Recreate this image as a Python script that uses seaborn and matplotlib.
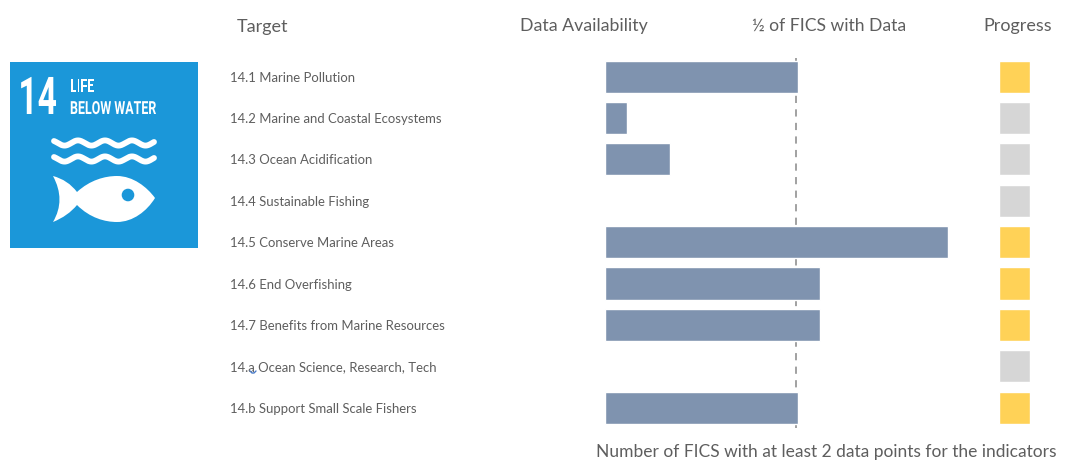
import numpy as np
import pandas as pd
import matplotlib
matplotlib.use("Agg")
import matplotlib.pyplot as plt
import seaborn as sns
from matplotlib.path import Path
from matplotlib.patches import PathPatch, Circle, Rectangle
from matplotlib.patheffects import AbstractPathEffect
from matplotlib.transforms import Affine2D

targets = ["14.1 Marine Pollution", "14.2 Marine and Coastal Ecosystems", "14.3 Ocean Acidification",
           "14.4 Sustainable Fishing", "14.5 Conserve Marine Areas", "14.6 End Overfishing",
           "14.7 Benefits from Marine Resources", "14.a Ocean Science, Research, Tech",
           "14.b Support Small Scale Fishers"]
fics_with_data = [9, 1, 3, 0, 16, 10, 10, 0, 9]
half_of_fics = 8.9
progress = ["some", "none", "none", "none", "some", "some", "some", "none", "some"]
progress_height = [1, 1, 1, 1, 1, 1, 1, 1, 1]

BAR = "#7F93AF"; YEL = "#FFD257"; GRY = "#D6D6D6"; TXT = "#5E5E5E"; BLUE = "#1B97D9"
W, H = 1075, 465

sns.set_theme(style="white")
plt.rcParams["font.family"] = ["Lato", "DejaVu Sans"]
fig = plt.figure(figsize=(W / 100, H / 100), dpi=100, facecolor="white")

def px_axes(x0, y0, x1, y1):
    return fig.add_axes([x0 / W, 1 - y1 / H, (x1 - x0) / W, (y1 - y0) / H])

top, bottom = 56.0, 428.3
unit = 21.45
ax = px_axes(605.2, top, 605.2 + 18 * unit, bottom)
ax.set_axisbelow(True)
df = pd.DataFrame({"target": targets, "fics": fics_with_data, "progress": progress, "h": progress_height})
sns.barplot(data=df, y="target", x="fics", color=BAR, saturation=1, width=0.775, ax=ax, zorder=3)
ax.set_xlim(0, 18)
ax.set_ylim(8.5, -0.5)
ax.axvline(half_of_fics, color="#9A9A9A", lw=1.3, ls=(0, (4, 3.5)), ymin=0.0, ymax=0.995, zorder=1)
ax.set_xlabel(""); ax.set_ylabel("")
ax.set_xticks([])
ax.tick_params(axis="y", length=0, pad=375.2 * 0.72)
for lab in ax.get_yticklabels():
    lab.set_ha("left"); lab.set_fontsize(9.45); lab.set_color(TXT); lab.set_family(["Lato", "DejaVu Sans"])
sns.despine(ax=ax, left=True, bottom=True)
ax.patch.set_alpha(0)

ax2 = px_axes(999.2, top, 1030, bottom)
sns.barplot(data=df, y="target", x="h", hue="progress", palette={"some": YEL, "none": GRY},
            saturation=1, width=0.775, dodge=False, legend=False, ax=ax2)
ax2.set_xlim(0, 1); ax2.set_ylim(8.5, -0.5)
ax2.axis("off")

def ftext(x, y, s, **kw):
    fig.text(x / W, 1 - y / H, s, color=TXT, va="center", **kw)

ftext(237, 27, "Target", fontsize=13)
ftext(520, 26, "Data Availability", fontsize=12.8)
ftext(752, 26, "½ of FICS with Data", fontsize=12.6)
ftext(983, 26, "Progress", fontsize=13)
ftext(596, 452, "Number of FICS with at least 2 data points for the indicators", fontsize=12.55)

# spell-check squiggle under "14.a"
sq = px_axes(0, 0, W, H); sq.set_xlim(0, W); sq.set_ylim(H, 0); sq.axis("off"); sq.patch.set_alpha(0)
sq.plot([250, 252, 254, 256], [371, 373, 373, 371], color="#4A7BC8", lw=1)

# SDG 14 logo: real text, narrowed at draw time to the logo's condensed lettering
class Squeeze(AbstractPathEffect):
    def __init__(self, sx, x0, dx=0):
        super().__init__()
        self.sx, self.x0, self.dx = sx, x0, dx
    def draw_path(self, renderer, gc, tpath, affine, rgbFace=None):
        a = affine + Affine2D().translate(-self.x0, 0).scale(self.sx, 1).translate(self.x0 + self.dx, 0)
        renderer.draw_path(gc, tpath, a, rgbFace)

lg = px_axes(0, 0, W, H); lg.set_xlim(0, W); lg.set_ylim(H, 0); lg.axis("off"); lg.patch.set_alpha(0)
lg.add_patch(Rectangle((10, 62), 188, 186, color=BLUE, lw=0))
lg.text(66, 114, "14", color="white", fontsize=37.5, fontweight="bold", family="Roboto", ha="right", va="baseline",
        path_effects=[Squeeze(0.645, 66, -9)])
for s, y in [("LIFE", 92), ("BELOW WATER", 114)]:
    lg.text(70, y, s, color="white", fontsize=13, fontweight="bold", family="Roboto", ha="left", va="baseline",
            path_effects=[Squeeze(0.69, 70)])
for yc in (143, 159):
    xs = np.linspace(54, 154, 160)
    lg.plot(xs, yc - 2.6 * np.cos((xs - 78) / 27 * 2 * np.pi), color="white", lw=4.2, solid_capstyle="round")
fish = [(Path.MOVETO, (53, 176)),
        (Path.CURVE3, (68, 180)), (Path.CURVE3, (77, 192)),
        (Path.CURVE4, (90, 180)), (Path.CURVE4, (105, 176)), (Path.CURVE4, (117, 176)),
        (Path.CURVE4, (133, 176)), (Path.CURVE4, (147, 187)), (Path.CURVE4, (155, 198)),
        (Path.CURVE4, (147, 211)), (Path.CURVE4, (133, 222)), (Path.CURVE4, (117, 222)),
        (Path.CURVE4, (105, 222)), (Path.CURVE4, (90, 218)), (Path.CURVE4, (77, 205)),
        (Path.CURVE3, (68, 216)), (Path.CURVE3, (53, 222)),
        (Path.CURVE3, (66, 200)), (Path.CURVE3, (53, 176)),
        (Path.CLOSEPOLY, (53, 176))]
lg.add_patch(PathPatch(Path([p for _, p in fish], [c for c, _ in fish]), facecolor="white", lw=0))
lg.add_patch(Circle((128, 195), 6.3, color=BLUE, lw=0))

fig.savefig("out.png", dpi=100)
